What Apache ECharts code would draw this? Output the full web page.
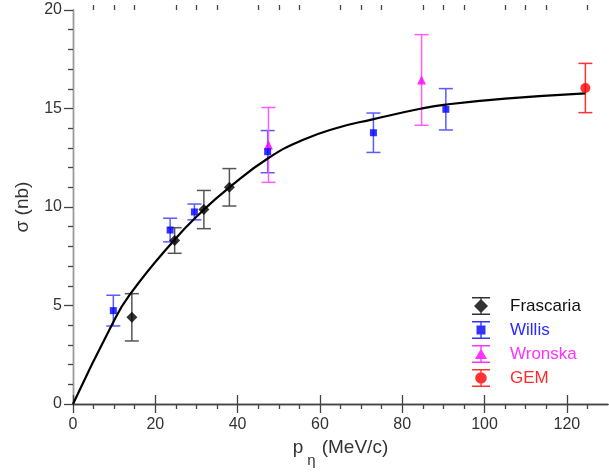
<!DOCTYPE html>
<html>
<head>
<meta charset="utf-8">
<script src="https://cdn.jsdelivr.net/npm/echarts@6/dist/echarts.min.js"></script>
<style>html,body{margin:0;padding:0;background:#fff}#c{width:609px;height:474px}</style>
</head>
<body>
<div id="c"></div>
<script>
// ---- data ----
const frascariaP = [14.3, 24.7, 31.8, 38.0];
const frascariaSigma = [4.4, 8.3, 9.87, 11.0];
const frascariaErr = [1.2, 0.65, 0.97, 0.95];

const willisP = [9.8, 23.6, 29.5, 47.3, 73.0, 90.6];
const willisSigma = [4.74, 8.83, 9.75, 12.81, 13.77, 14.96];
const willisErr = [0.78, 0.6, 0.4, 1.07, 1.0, 1.05];

const wronskaP = [47.5, 84.7];
const wronskaSigma = [13.15, 16.45];
const wronskaErr = [1.9, 2.3];

const gemP = [124.5];
const gemSigma = [16.04];
const gemErr = [1.25];

const fitP = [0, 9.4, 13.8, 24.3, 31.2, 38, 47.6, 55.8, 63.9, 72.8, 84.7, 90.6, 105, 124.5];
const fitSigma = [0, 4.0, 5.55, 8.25, 9.75, 11.0, 12.5, 13.4, 14.0, 14.45, 15.0, 15.2, 15.5, 15.77];

const xMajorTicks = [0, 20, 40, 60, 80, 100, 120];
const xMinorTicks = [5, 10, 15, 25, 30, 35, 45, 50, 55, 65, 70, 75, 85, 90, 95, 105, 110, 115, 125];
const yMajorTicks = [0, 5, 10, 15, 20];
const yMinorTicks = [1, 2, 3, 4, 6, 7, 8, 9, 11, 12, 13, 14, 16, 17, 18, 19];

const seriesNames = ['Frascaria', 'Willis', 'Wronska', 'GEM'];
// ---------------------------------------

const FONT = "'Liberation Sans', Arial, sans-serif";
const AX = '#444';

function pts(p, s) { return p.map((v, i) => [v, s[i]]); }
function errs(p, s, e) { return p.map((v, i) => [v, s[i] - e[i], s[i] + e[i]]); }

function errSeries(data, color) {
  return {
    type: 'custom', z: 2, silent: true,
    data: data,
    encode: { x: 0, y: [1, 2] },
    renderItem: function (params, api) {
      const x = api.value(0);
      const lo = api.coord([x, api.value(1)]);
      const hi = api.coord([x, api.value(2)]);
      const h = 7;
      const st = { stroke: color, lineWidth: 1.5 };
      return {
        type: 'group', children: [
          { type: 'line', shape: { x1: hi[0], y1: hi[1], x2: lo[0], y2: lo[1] }, style: st },
          { type: 'line', shape: { x1: hi[0] - h, y1: hi[1], x2: hi[0] + h, y2: hi[1] }, style: st },
          { type: 'line', shape: { x1: lo[0] - h, y1: lo[1], x2: lo[0] + h, y2: lo[1] }, style: st }
        ]
      };
    }
  };
}

// legend icons: error bar + marker, in a 18x18 box
const barPath = 'M0 0 L18 0 L18 1.4 L9.7 1.4 L9.7 16.6 L18 16.6 L18 18 L0 18 L0 16.6 L8.3 16.6 L8.3 1.4 L0 1.4 Z ';
const icons = {
  Frascaria: 'path://' + barPath + 'M9 2 L16 9 L9 16 L2 9 Z',
  Willis: 'path://' + barPath + 'M4.5 4.5 L13.5 4.5 L13.5 13.5 L4.5 13.5 Z',
  Wronska: 'path://' + barPath + 'M9 3.5 L15 14 L3 14 Z',
  GEM: 'path://' + barPath + 'M9 3.2 A5.8 5.8 0 1 1 8.99 3.2 Z'
};
const textColors = { Frascaria: '#111', Willis: '#2a2aff', Wronska: '#ff33ff', GEM: '#ff2a2a' };

const xBase = { type: 'value', min: 0, max: 130, splitLine: { show: false } };
const yBase = { type: 'value', min: 0, max: 20, splitLine: { show: false } };

const option = {
  animation: false,
  backgroundColor: '#fff',
  textStyle: { fontFamily: FONT },
  grid: { left: 73, right: 1, top: 10, bottom: 70, containLabel: false },
  legend: {
    orient: 'vertical', left: 472, top: 297, padding: 0,
    itemWidth: 18, itemHeight: 18, itemGap: 6,
    selectedMode: false,
    data: seriesNames.map(n => ({ name: n, icon: icons[n], textStyle: { color: textColors[n] } })),
    textStyle: { fontFamily: FONT, fontSize: 17, padding: [0, 0, 0, 15] }
  },
  xAxis: [
    Object.assign({}, xBase, {
      position: 'bottom',
      name: '{p|p}{s|η}{t|(MeV/c)}', nameLocation: 'middle', nameGap: 25,
      nameTextStyle: {
        rich: {
          p: { fontSize: 19, lineHeight: 19, verticalAlign: 'top', padding: [0, 4, 0, 0], color: '#333', fontFamily: FONT },
          s: { fontSize: 15, lineHeight: 15, verticalAlign: 'top', padding: [15, 6, 0, 0], color: '#333', fontFamily: FONT },
          t: { fontSize: 19, lineHeight: 19, verticalAlign: 'top', color: '#333', fontFamily: FONT }
        }
      },
      axisLine: { show: true, lineStyle: { color: AX, width: 1.3 } },
      axisTick: { show: true, inside: false, length: 9, customValues: xMajorTicks, lineStyle: { color: AX, width: 1.3 } },
      axisLabel: { show: true, customValues: xMajorTicks, fontSize: 16, color: '#333', margin: 13, fontFamily: FONT }
    }),
    Object.assign({}, xBase, {
      position: 'bottom',
      axisLine: { show: false },
      axisTick: { show: true, inside: false, length: 5, customValues: xMinorTicks, lineStyle: { color: AX, width: 1.3 } },
      axisLabel: { show: false }
    }),
    Object.assign({}, xBase, {
      position: 'top',
      axisLine: { show: true, lineStyle: { color: AX, width: 1.3 } },
      axisTick: { show: true, inside: false, length: 9, customValues: xMajorTicks, lineStyle: { color: AX, width: 1.3 } },
      axisLabel: { show: false }
    }),
    Object.assign({}, xBase, {
      position: 'top',
      axisLine: { show: false },
      axisTick: { show: true, inside: false, length: 5, customValues: xMinorTicks, lineStyle: { color: AX, width: 1.3 } },
      axisLabel: { show: false }
    })
  ],
  yAxis: [
    Object.assign({}, yBase, {
      position: 'left',
      name: 'σ (nb)', nameLocation: 'middle', nameGap: 41, nameRotate: 90,
      nameTextStyle: { fontSize: 19, color: '#333', fontFamily: FONT },
      axisLine: { show: true, lineStyle: { color: AX, width: 1.3 } },
      axisTick: { show: true, inside: false, length: 9, customValues: yMajorTicks, lineStyle: { color: AX, width: 1.3 } },
      axisLabel: { show: true, customValues: yMajorTicks, fontSize: 16, color: '#333', margin: 11, fontFamily: FONT }
    }),
    Object.assign({}, yBase, {
      position: 'left',
      axisLine: { show: false },
      axisTick: { show: true, inside: false, length: 5, customValues: yMinorTicks, lineStyle: { color: AX, width: 1.3 } },
      axisLabel: { show: false }
    }),
    Object.assign({}, yBase, {
      position: 'right',
      axisLine: { show: true, lineStyle: { color: '#999', width: 1.3 } },
      axisTick: { show: false },
      axisLabel: { show: false }
    })
  ],
  series: [
    errSeries(errs(frascariaP, frascariaSigma, frascariaErr), '#555'),
    errSeries(errs(willisP, willisSigma, willisErr), '#5a5aff'),
    errSeries(errs(wronskaP, wronskaSigma, wronskaErr), '#ff5cff'),
    errSeries(errs(gemP, gemSigma, gemErr), '#ff3333'),
    {
      type: 'line', name: 'fit', data: pts(fitP, fitSigma), smooth: 0.5, showSymbol: false,
      lineStyle: { color: '#000', width: 2.2 }, z: 3, silent: true
    },
    { type: 'scatter', name: 'Frascaria', data: pts(frascariaP, frascariaSigma), symbol: 'diamond', symbolSize: 11, itemStyle: { color: '#000' }, z: 4 },
    { type: 'scatter', name: 'Wronska', data: pts(wronskaP, wronskaSigma), symbol: 'triangle', symbolSize: 9, itemStyle: { color: '#ff00ff' }, z: 4 },
    { type: 'scatter', name: 'Willis', data: pts(willisP, willisSigma), symbol: 'rect', symbolSize: 7, itemStyle: { color: '#0000ff' }, z: 4 },
    { type: 'scatter', name: 'GEM', data: pts(gemP, gemSigma), symbol: 'circle', symbolSize: 10, itemStyle: { color: '#ff0000' }, z: 4 }
  ]
};

const chart = echarts.init(document.getElementById('c'), null, { renderer: 'canvas' });
chart.setOption(option);
</script>
</body>
</html>
